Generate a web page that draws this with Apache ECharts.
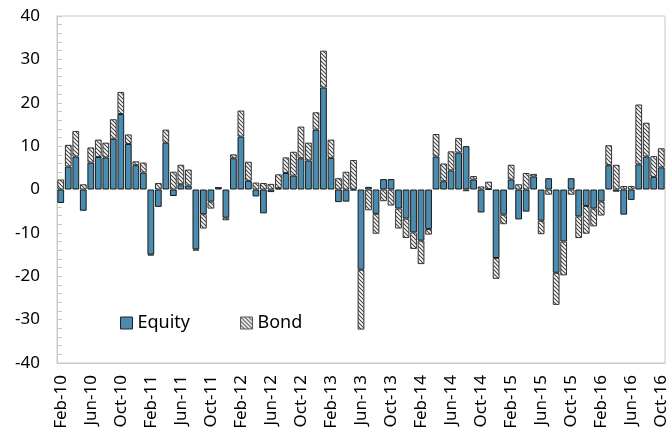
<!DOCTYPE html>
<html><head><meta charset="utf-8">
<script src="https://cdn.jsdelivr.net/npm/echarts@6/dist/echarts.min.js"></script>
<style>html,body{margin:0;padding:0;background:#fff}#c{width:672px;height:441px}</style>
</head><body><div id="c"></div>
<script>
const categories = [
 'Feb-10','Mar-10','Apr-10','May-10','Jun-10','Jul-10','Aug-10','Sep-10','Oct-10','Nov-10','Dec-10',
 'Jan-11','Feb-11','Mar-11','Apr-11','May-11','Jun-11','Jul-11','Aug-11','Sep-11','Oct-11','Nov-11','Dec-11',
 'Jan-12','Feb-12','Mar-12','Apr-12','May-12','Jun-12','Jul-12','Aug-12','Sep-12','Oct-12','Nov-12','Dec-12',
 'Jan-13','Feb-13','Mar-13','Apr-13','May-13','Jun-13','Jul-13','Aug-13','Sep-13','Oct-13','Nov-13','Dec-13',
 'Jan-14','Feb-14','Mar-14','Apr-14','May-14','Jun-14','Jul-14','Aug-14','Sep-14','Oct-14','Nov-14','Dec-14',
 'Jan-15','Feb-15','Mar-15','Apr-15','May-15','Jun-15','Jul-15','Aug-15','Sep-15','Oct-15','Nov-15','Dec-15',
 'Jan-16','Feb-16','Mar-16','Apr-16','May-16','Jun-16','Jul-16','Aug-16','Sep-16','Oct-16'
];
const equity = [
 -3.1, 5.3, 7.6, -4.9, 6.2, 7.5, 7.4, 11.7, 17.4, 10.5, 5.6,
 3.9, -15.0, -4.0, 10.8, -1.5, 1.2, 0.9, -13.8, -5.7, -2.8, 0.4, -6.5,
 7.2, 12.2, 2.0, -1.6, -5.5, -0.6, 0.3, 3.8, 3.2, 7.2, 6.7, 13.8,
 23.5, 7.3, -2.9, -2.8, -0.2, -18.5, 0.6, -5.6, 2.4, 2.4, -4.4, -6.7,
 -9.9, -11.8, -9.1, 7.6, 1.9, 4.4, 8.5, 10.0, 2.3, -5.3, 0.1, -15.8,
 -5.8, 2.3, -6.9, -5.1, 3.0, -7.2, 2.6, -19.2, -12.0, 2.6, -6.2, -3.8,
 -4.4, -2.8, 5.6, -0.5, -5.8, -2.4, 5.8, 7.6, 2.9, 5.1
];
const bond = [
 2.3, 5.0, 5.9, 1.2, 3.5, 4.0, 3.4, 4.5, 5.1, 2.2, 0.9,
 2.3, -0.2, 1.5, 3.0, 4.1, 4.5, 3.7, -0.3, -3.3, -1.6, 0.1, -0.6,
 0.9, 6.0, 4.4, 1.6, 1.5, 1.3, 3.2, 3.6, 5.5, 7.3, 4.1, 4.0,
 8.5, 4.2, 2.6, 4.1, 6.8, -13.8, -4.8, -4.6, -2.7, -3.7, -4.6, -4.5,
 -3.8, -5.4, -1.3, 5.2, 4.1, 4.4, 3.4, -0.4, 0.8, 0.7, 1.7, -4.8,
 -2.2, 3.4, 1.2, 3.8, 0.6, -3.1, -1.2, -7.4, -7.8, -1.2, -5.0, -6.4,
 -4.1, -3.2, 4.6, 5.7, 0.8, 0.8, 13.8, 7.8, 4.8, 4.4
];
const yTicks = [-40, -30, -20, -10, 0, 10, 20, 30, 40];

function hatch() {
  const s = 4, cv = document.createElement('canvas');
  cv.width = s; cv.height = s;
  const g = cv.getContext('2d');
  g.fillStyle = '#ffffff'; g.fillRect(0, 0, s, s);
  g.strokeStyle = '#444444'; g.lineWidth = 1.1;
  g.beginPath();
  g.moveTo(-1, -1); g.lineTo(s + 1, s + 1);
  g.moveTo(-1, s - 1); g.lineTo(1, s + 1);
  g.moveTo(s - 1, -1); g.lineTo(s + 1, 1);
  g.stroke();
  return { image: cv, repeat: 'repeat' };
}
const pat = hatch();
const font = '"Noto Sans", "Open Sans", sans-serif';

const chart = echarts.init(document.getElementById('c'), null, { renderer: 'canvas' });
chart.setOption({
  animation: false,
  textStyle: { fontFamily: font },
  grid: { left: 57, right: 7, top: 16, bottom: 78, show: true, borderColor: '#c8c8c8', borderWidth: 1, backgroundColor: 'transparent' },
  legend: {
    left: 115, top: 309, itemWidth: 12, itemHeight: 12, itemGap: 50,
    textStyle: { fontSize: 18, color: '#000', fontFamily: font },
    data: [
      { name: 'Equity', icon: 'rect', itemStyle: { color: '#4a8bb0', borderColor: '#222', borderWidth: 1 } },
      { name: 'Bond', icon: 'rect', itemStyle: { color: pat, borderColor: '#555', borderWidth: 1 } }
    ]
  },
  xAxis: {
    type: 'category', data: categories, position: 'bottom',
    axisLine: { onZero: false, lineStyle: { color: '#c8c8c8' } },
    axisTick: { show: false },
    axisLabel: { interval: 3, rotate: 90, fontSize: 17, color: '#000', margin: 12, fontFamily: font }
  },
  yAxis: {
    type: 'value', min: yTicks[0], max: yTicks[yTicks.length - 1], interval: 10,
    axisLine: { show: true, lineStyle: { color: '#c8c8c8' } },
    axisTick: { show: true, inside: true, length: 5, lineStyle: { color: '#c8c8c8' } },
    minorTick: { show: true, splitNumber: 5, length: 5, lineStyle: { color: '#c8c8c8' } },
    splitLine: { show: false },
    axisLabel: { fontSize: 17, color: '#000', margin: 17, fontFamily: font }
  },
  series: [
    { name: 'Equity', type: 'bar', stack: 'a', data: equity, barCategoryGap: '10%',
      itemStyle: { color: '#4a8bb0', borderColor: '#1a1a1a', borderWidth: 1 } },
    { name: 'Bond', type: 'bar', stack: 'a', data: bond, barCategoryGap: '10%',
      itemStyle: { color: pat, borderColor: '#333', borderWidth: 1 } }
  ]
});
</script></body></html>
